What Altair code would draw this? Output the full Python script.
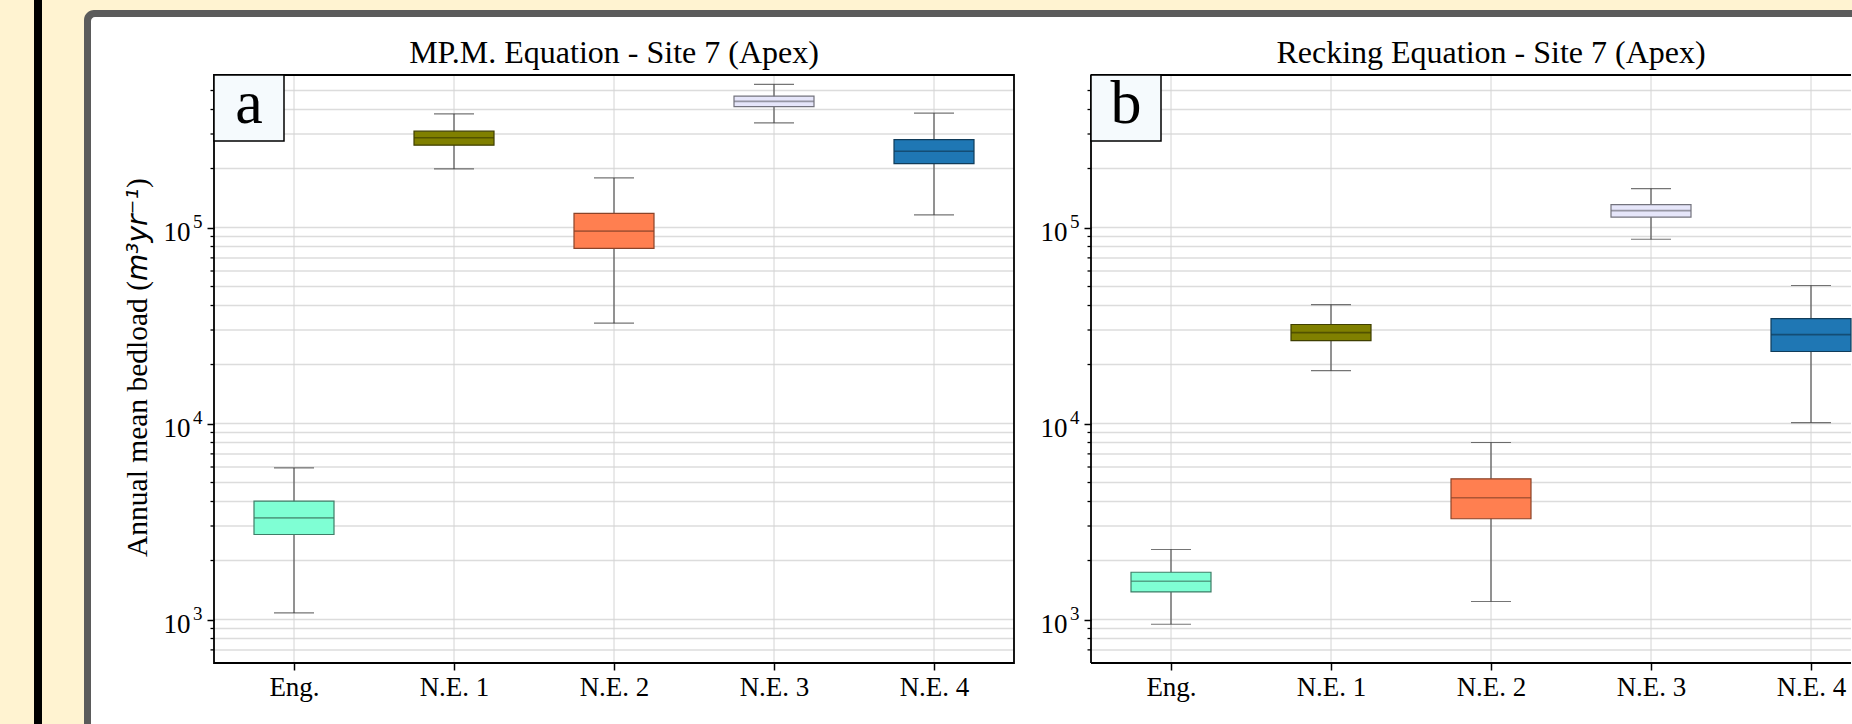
import altair as alt
import pandas as pd

# ---------------- data ----------------
categories = ["Eng.", "N.E. 1", "N.E. 2", "N.E. 3", "N.E. 4"]
box_colors = ["#7FFFD4", "#808000", "#FF7F50", "#E6E6FA", "#1F77B4"]
edge_colors = ["#3E7D67", "#3F3F00", "#8A4329", "#73737D", "#103C5A"]

panel_titles = ["MP.M. Equation - Site 7 (Apex)", "Recking Equation - Site 7 (Apex)"]
panel_letters = ["a", "b"]
y_title_parts = ["Annual mean bedload (", "m³yr⁻¹", ")"]

# panel a (MP.M.)
a_whisker_low = [1080, 199000, 32500, 342000, 116000]
a_q1 = [2715, 263000, 78200, 414000, 212000]
a_median = [3300, 287000, 95800, 440000, 245000]
a_q3 = [4015, 310000, 118000, 468000, 281000]
a_whisker_high = [5940, 380000, 179000, 537000, 383000]

# panel b (Recking)
b_whisker_low = [946, 18600, 1236, 87100, 10100]
b_q1 = [1383, 26500, 3266, 113000, 23300]
b_median = [1567, 29100, 4178, 122000, 28400]
b_q3 = [1742, 32000, 5224, 131000, 34300]
b_whisker_high = [2276, 40400, 8000, 158000, 50600]

y_domain = [600, 600000]
y_tick_values = [1000, 10000, 100000]
y_tick_base = "10"
y_tick_exponents = ["3", "4", "5"]
grid_values = [700, 800, 900,
               1000, 2000, 3000, 4000, 5000, 6000, 7000, 8000, 9000,
               10000, 20000, 30000, 40000, 50000, 60000, 70000, 80000, 90000,
               100000, 200000, 300000, 400000, 500000]
minor_values = [700, 800, 900,
                2000, 3000, 4000, 5000, 6000, 7000, 8000, 9000,
                20000, 30000, 40000, 50000, 60000, 70000, 80000, 90000,
                200000, 300000, 400000, 500000]

FONT = "Liberation Serif"
MATHFONT = "DejaVu Sans"
CREAM = "#FFF3D1"
H = 588

one = pd.DataFrame({"k": [0]})
grid_df = pd.DataFrame({"v": grid_values})
minor_df = pd.DataFrame({"v": minor_values})
cat_df = pd.DataFrame({"cat": categories})
exp_df = pd.DataFrame({"v": y_tick_values, "e": y_tick_exponents})


def make_df(lo, q1, med, q3, hi):
    return pd.DataFrame({"cat": categories, "wlo": lo, "q1": q1, "med": med,
                         "q3": q3, "whi": hi})


def panel(df, title, letter, width, first):
    xs = alt.Scale(type="point", domain=categories, range=[80, 720], padding=0)
    ys = alt.Scale(type="log", domain=y_domain, nice=False)
    xaxis = alt.Axis(title=None, labelAngle=0, labelFont=FONT, labelFontSize=27,
                     labelColor="black", tickSize=7, tickWidth=1.5, tickColor="black",
                     domain=False, grid=False, labelPadding=4, zindex=1)
    yaxis = alt.Axis(title=None, values=y_tick_values,
                     labelExpr=f"'{y_tick_base}'", labelFont=FONT, labelFontSize=27,
                     labelColor="black", tickSize=7, tickWidth=1.5, tickColor="black",
                     domain=False, grid=False, labelPadding=17, labelBaseline="alphabetic",
                     labelOffset=13, zindex=1)
    X = alt.X("cat:N", scale=xs, axis=xaxis, sort=categories)

    def Y(f):
        return alt.Y(f, type="quantitative", scale=ys, axis=yaxis)

    layers = []
    if first:
        # page decoration: cream page, black bar, grey card, white card
        layers.append(alt.Chart(one).mark_rect(fill=CREAM).encode(
            x=alt.value(-214), x2=alt.value(1638), y=alt.value(-75), y2=alt.value(649)))
        layers.append(alt.Chart(one).mark_rect(fill="black").encode(
            x=alt.value(-180), x2=alt.value(-172), y=alt.value(-75), y2=alt.value(649)))
        layers.append(alt.Chart(one).mark_rect(fill="#5B5B5B", cornerRadiusTopLeft=10).encode(
            x=alt.value(-130), x2=alt.value(1638), y=alt.value(-65), y2=alt.value(649)))
        layers.append(alt.Chart(one).mark_rect(fill="white", cornerRadiusTopLeft=4).encode(
            x=alt.value(-123), x2=alt.value(1638), y=alt.value(-58), y2=alt.value(649)))

    hgrid = alt.Chart(grid_df).mark_rule(color="#DCDCDC", strokeWidth=1.5).encode(y=Y("v"))
    vgrid = alt.Chart(cat_df).mark_rule(color="#D4D4D4", strokeWidth=1).encode(x=X)
    minor = alt.Chart(minor_df).mark_rule(color="black", strokeWidth=1.3).encode(
        y=Y("v"), x=alt.value(-3.5), x2=alt.value(0))
    expo = alt.Chart(exp_df).mark_text(font=FONT, fontSize=19, align="left",
                                       baseline="alphabetic", color="black").encode(
        y=Y("v"), x=alt.value(-21), text="e:N")
    whisk = alt.Chart(df).mark_rule(color="#3A3A3A", strokeWidth=1).encode(
        x=X, y=Y("wlo"), y2="whi")
    box = alt.Chart(df).mark_bar(size=80, strokeWidth=1.2).encode(
        x=X, y=Y("q1"), y2="q3",
        fill=alt.Fill("cat:N", scale=alt.Scale(domain=categories, range=box_colors), legend=None),
        stroke=alt.Stroke("cat:N", scale=alt.Scale(domain=categories, range=edge_colors), legend=None))
    med = alt.Chart(df).mark_tick(size=80, thickness=1.6).encode(
        x=X, y=Y("med"),
        color=alt.Color("cat:N", scale=alt.Scale(domain=categories, range=edge_colors), legend=None))
    cap_lo = alt.Chart(df).mark_tick(size=40, thickness=1.2, color="#3A3A3A").encode(x=X, y=Y("wlo"))
    cap_hi = alt.Chart(df).mark_tick(size=40, thickness=1.2, color="#3A3A3A").encode(x=X, y=Y("whi"))
    layers += [hgrid, vgrid, whisk, box, med, cap_lo, cap_hi, minor, expo]

    # frame
    if first:
        layers.append(alt.Chart(one).mark_rect(fillOpacity=0, stroke="black", strokeWidth=1.8).encode(
            x=alt.value(0), x2=alt.value(800), y=alt.value(0), y2=alt.value(H)))
    else:
        layers.append(alt.Chart(one).mark_rule(color="black", strokeWidth=1.8).encode(
            x=alt.value(0), x2=alt.value(width), y=alt.value(0)))
        layers.append(alt.Chart(one).mark_rule(color="black", strokeWidth=1.8).encode(
            x=alt.value(0), x2=alt.value(width), y=alt.value(H)))
        layers.append(alt.Chart(one).mark_rule(color="black", strokeWidth=1.8).encode(
            x=alt.value(0), y=alt.value(0), y2=alt.value(H)))

    # panel letter
    layers.append(alt.Chart(one).mark_rect(fill="#F5FAFD", stroke="black", strokeWidth=1.5).encode(
        x=alt.value(0), x2=alt.value(70), y=alt.value(0), y2=alt.value(66)))
    layers.append(alt.Chart(one).mark_text(font=FONT, fontSize=62, baseline="alphabetic",
                                           align="center", color="black").encode(
        x=alt.value(35), y=alt.value(48), text=alt.value(letter)))
    # panel title
    layers.append(alt.Chart(one).mark_text(font=FONT, fontSize=32, baseline="alphabetic",
                                           align="center", color="black").encode(
        x=alt.value(400), y=alt.value(-12), text=alt.value(title)))

    if first:
        # y-axis title: serif text + italic sans "math" part, rotated
        layers.append(alt.Chart(one).mark_text(font=FONT, fontSize=29.5, angle=270,
                                               baseline="alphabetic", align="left",
                                               color="black").encode(
            x=alt.value(-67), y=alt.value(482), text=alt.value(y_title_parts[0])))
        layers.append(alt.Chart(one).mark_text(font=MATHFONT, fontStyle="italic", fontSize=28,
                                               angle=270, baseline="alphabetic", align="left",
                                               color="black").encode(
            x=alt.value(-67), y=alt.value(206), text=alt.value(y_title_parts[1])))
        layers.append(alt.Chart(one).mark_text(font=FONT, fontSize=29.5, angle=270,
                                               baseline="alphabetic", align="left",
                                               color="black").encode(
            x=alt.value(-67), y=alt.value(113), text=alt.value(y_title_parts[2])))

    return alt.layer(*layers).properties(width=width, height=H)


pa = panel(make_df(a_whisker_low, a_q1, a_median, a_q3, a_whisker_high),
           panel_titles[0], panel_letters[0], 800, True)
pb = panel(make_df(b_whisker_low, b_q1, b_median, b_q3, b_whisker_high),
           panel_titles[1], panel_letters[1], 760, False)

chart = alt.hconcat(pa, pb, spacing=77, bounds="flush").properties(
    padding=0, background=CREAM
).configure_view(stroke=None)

chart.save("out.html", embed_options={"renderer": "svg", "actions": False})
